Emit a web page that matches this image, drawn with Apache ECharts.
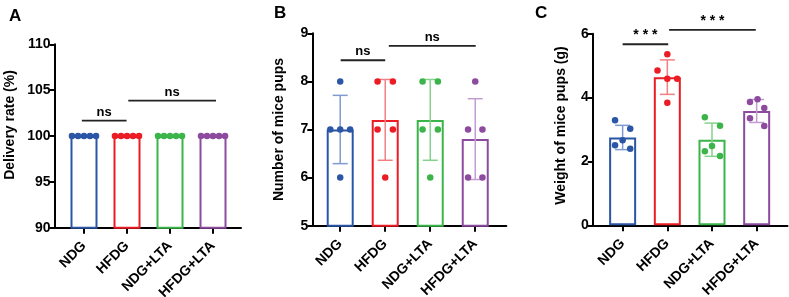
<!DOCTYPE html>
<html>
<head>
<meta charset="utf-8">
<script src="https://cdn.jsdelivr.net/npm/echarts@6/dist/echarts.min.js"></script>
<style>
  html, body { margin: 0; padding: 0; background: #fff; }
  #chart { width: 789px; height: 297px; }
</style>
</head>
<body>
<div id="chart"></div>
<script>
const groups = ['NDG', 'HFDG', 'NDG+LTA', 'HFDG+LTA'];
const colors = ['#2b56a5', '#ec1c24', '#3bb54a', '#8c4b9f'];
const errColors = ['#7f9bd0', '#f27f84', '#86d18d', '#c29ed0'];

// A - delivery rate
const rateMean = [100, 100, 100, 100];
const rateSd = [0, 0, 0, 0];
const ratePoints = [
  [100, 100, 100, 100, 100],
  [100, 100, 100, 100, 100],
  [100, 100, 100, 100, 100],
  [100, 100, 100, 100, 100]
];
const rateJitter = [
  [-0.28, -0.14, 0, 0.14, 0.28],
  [-0.28, -0.14, 0, 0.14, 0.28],
  [-0.28, -0.14, 0, 0.14, 0.28],
  [-0.28, -0.14, 0, 0.14, 0.28]
];
const rateSigFrom = [-0.05, 1.03];
const rateSigTo = [0.99, 3.07];
const rateSigY = [101.67, 103.85];
const rateSigText = ['ns', 'ns'];

// B - number of pups
const pupsMean = [7.0, 7.2, 7.2, 6.8];
const pupsSd = [0.71, 0.84, 0.84, 0.84];
const pupsPoints = [
  [8, 7, 7, 7, 6],
  [8, 8, 7, 7, 6],
  [8, 8, 7, 7, 6],
  [8, 7, 7, 6, 6]
];
const pupsJitter = [
  [0, -0.22, 0, 0.22, 0],
  [-0.17, 0.17, -0.17, 0.17, 0],
  [-0.17, 0.17, -0.17, 0.17, 0],
  [0, -0.16, 0.16, -0.16, 0.16]
];
const pupsSigFrom = [0.01, 1.08];
const pupsSigTo = [1.0, 3.01];
const pupsSigY = [8.44, 8.74];
const pupsSigText = ['ns', 'ns'];

// C - weight of pups
const weightMean = [2.75, 4.64, 2.68, 3.58];
const weightSd = [0.38, 0.54, 0.52, 0.36];
const weightPoints = [
  [3.29, 3.02, 2.66, 2.51, 2.40],
  [5.36, 4.85, 4.59, 4.59, 3.84],
  [3.38, 3.12, 2.48, 2.32, 2.17],
  [3.86, 3.95, 3.67, 3.35, 3.11]
];
const weightJitter = [
  [-0.17, 0.17, 0, -0.17, 0.17],
  [0, -0.22, 0, 0.22, 0],
  [-0.16, 0.18, 0, -0.16, 0.18],
  [-0.15, 0.02, 0.17, -0.15, 0.17]
];
const weightSigFrom = [0, 1.04];
const weightSigTo = [1.02, 2.98];
const weightSigY = [5.67, 6.12];
const weightSigText = ['* * *', '* * *'];

const font = 'Arial, "Liberation Sans", sans-serif';

const panels = [
  {
    grid: { left: 54.5, right: 548, top: 44.3, bottom: 69.3, outerBoundsMode: 'none' },
    xMin: -0.686, xMax: 3.651,
    yMin: 90, yMax: 110, yInterval: 5,
    name: 'Delivery rate (%)', nameGap: 37, namePad: [0, 0, 0, 22],
    mean: rateMean, sd: rateSd, points: ratePoints, jitter: rateJitter,
    sig: [rateSigFrom, rateSigTo, rateSigY, rateSigText], sigFont: 13
  },
  {
    grid: { left: 312.3, right: 282.7, top: 33.3, bottom: 71.3, outerBoundsMode: 'none' },
    xMin: -0.62, xMax: 3.69,
    yMin: 5, yMax: 9, yInterval: 1,
    name: 'Number of mice pups', nameGap: 26, namePad: [0, 0, 0, 0],
    mean: pupsMean, sd: pupsSd, points: pupsPoints, jitter: pupsJitter,
    sig: [pupsSigFrom, pupsSigTo, pupsSigY, pupsSigText], sigFont: 13
  },
  {
    grid: { left: 592.7, right: 1.5, top: 33.7, bottom: 71.7, outerBoundsMode: 'none' },
    xMin: -0.67, xMax: 3.69,
    yMin: 0, yMax: 6, yInterval: 2,
    name: 'Weight of mice pups (g)', nameGap: 25, namePad: [0, 0, 0, 8],
    mean: weightMean, sd: weightSd, points: weightPoints, jitter: weightJitter,
    sig: [weightSigFrom, weightSigTo, weightSigY, weightSigText], sigFont: 14
  }
];

const grid = [], xAxis = [], yAxis = [], series = [];

panels.forEach((p, k) => {
  grid.push(p.grid);
  xAxis.push({
    gridIndex: k,
    type: 'value',
    min: p.xMin,
    max: p.xMax,
    splitLine: { show: false },
    axisLine: { show: true, onZero: false, lineStyle: { color: '#000', width: 2 } },
    axisTick: { show: true, customValues: [0, 1, 2, 3], length: 6, lineStyle: { color: '#000', width: 2 } },
    axisLabel: {
      customValues: [0, 1, 2, 3],
      formatter: v => groups[Math.round(v)],
      rotate: 45,
      margin: 16,
      color: '#000',
      fontWeight: 'bold',
      fontSize: 14,
      fontFamily: font
    }
  });
  yAxis.push({
    gridIndex: k,
    type: 'value',
    min: p.yMin,
    max: p.yMax,
    interval: p.yInterval,
    name: p.name,
    nameLocation: 'middle',
    nameGap: p.nameGap,
    nameTextStyle: { color: '#000', fontWeight: 'bold', fontSize: 14, fontFamily: font, padding: p.namePad },
    splitLine: { show: false },
    axisLine: { show: true, onZero: false, lineStyle: { color: '#000', width: 2 } },
    axisTick: { show: true, length: 5, lineStyle: { color: '#000', width: 2 } },
    axisLabel: { color: '#000', fontWeight: 'bold', fontSize: 14, fontFamily: font, margin: 4 }
  });

  // bars
  series.push({
    type: 'bar',
    xAxisIndex: k, yAxisIndex: k,
    barWidth: 27,
    clip: true,
    z: 2,
    data: p.mean.map((m, i) => ({
      value: [i, m],
      itemStyle: { color: '#fff', borderColor: colors[i], borderWidth: 2 }
    }))
  });

  // error bars (mean ± SD)
  series.push({
    type: 'custom',
    xAxisIndex: k, yAxisIndex: k,
    z: 3,
    data: p.mean.map((m, i) => [i, m, p.sd[i]]),
    renderItem: (params, api) => {
      const i = params.dataIndex;
      const x = api.value(0), m = api.value(1), s = api.value(2);
      if (!s) return null;
      const hi = api.coord([x, m + s]);
      const lo = api.coord([x, m - s]);
      const hw = 7.5;
      const st = { stroke: errColors[i], lineWidth: 1.5 };
      return {
        type: 'group',
        children: [
          { type: 'line', shape: { x1: hi[0], y1: hi[1], x2: lo[0], y2: lo[1] }, style: st },
          { type: 'line', shape: { x1: hi[0] - hw, y1: hi[1], x2: hi[0] + hw, y2: hi[1] }, style: st },
          { type: 'line', shape: { x1: lo[0] - hw, y1: lo[1], x2: lo[0] + hw, y2: lo[1] }, style: st }
        ]
      };
    }
  });

  // individual points
  p.points.forEach((vals, i) => {
    series.push({
      type: 'scatter',
      xAxisIndex: k, yAxisIndex: k,
      symbolSize: 6.5,
      z: 4,
      itemStyle: { color: colors[i], opacity: 1 },
      data: vals.map((v, j) => [i + p.jitter[i][j], v])
    });
  });

  // significance brackets
  const [from, to, ys, texts] = p.sig;
  series.push({
    type: 'custom',
    xAxisIndex: k, yAxisIndex: k,
    z: 5,
    data: from.map((f, j) => [f, to[j], ys[j]]),
    renderItem: (params, api) => {
      const j = params.dataIndex;
      const a = api.coord([api.value(0), api.value(2)]);
      const b = api.coord([api.value(1), api.value(2)]);
      return {
        type: 'group',
        children: [
          { type: 'line', shape: { x1: a[0], y1: a[1], x2: b[0], y2: a[1] }, style: { stroke: '#222', lineWidth: 1.8 } },
          {
            type: 'text',
            style: {
              x: (a[0] + b[0]) / 2, y: a[1] - 2,
              text: texts[j],
              align: 'center', verticalAlign: 'bottom',
              fill: '#000', font: 'bold ' + p.sigFont + 'px ' + font
            }
          }
        ]
      };
    }
  });
});

const chart = echarts.init(document.getElementById('chart'), null, { renderer: 'canvas' });
chart.setOption({
  animation: false,
  backgroundColor: '#fff',
  title: [
    { text: 'A', left: 4, top: 3, textStyle: { fontSize: 17, fontWeight: 'bold', color: '#000', fontFamily: font } },
    { text: 'B', left: 269, top: 0, textStyle: { fontSize: 17, fontWeight: 'bold', color: '#000', fontFamily: font } },
    { text: 'C', left: 530, top: 0, textStyle: { fontSize: 17, fontWeight: 'bold', color: '#000', fontFamily: font } }
  ],
  grid,
  xAxis,
  yAxis,
  series
});
</script>
</body>
</html>
